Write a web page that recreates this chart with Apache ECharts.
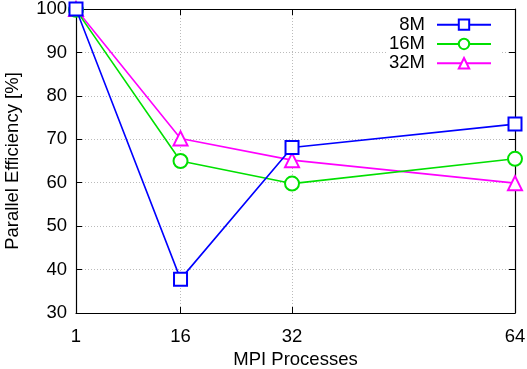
<!DOCTYPE html>
<html><head><meta charset="utf-8">
<script src="https://cdn.jsdelivr.net/npm/echarts@6/dist/echarts.min.js"></script>
<style>html,body{margin:0;padding:0;background:#fff}#c{width:527px;height:369px}</style>
</head><body><div id="c"></div>
<script>
const procs = [1, 16, 32, 64];
const xTicks = [1, 16, 32, 64];
const seriesNames = ['8M', '16M', '32M'];
const eff8M = [100, 37.8, 68.1, 73.5];
const eff16M = [99.8, 65.0, 59.8, 65.5];
const eff32M = [100, 70.2, 65.2, 59.9];
const yMin = 30, yMax = 100, yStep = 10;

const font = 'Liberation Sans, Arial, Helvetica, sans-serif';
const fs = 18.5;
const colors = ['#0000ff', '#00e000', '#ff00ff'];
const symbols = ['emptyRect', 'emptyCircle', 'emptyTriangle'];
const sizes = [13, 14, 14];
const values = [eff8M, eff16M, eff32M];

const chart = echarts.init(document.getElementById('c'));
const tickStyle = {show: true, inside: true, length: 6, lineStyle: {color: '#000', width: 1}};
const lineStyleAxis = {show: true, onZero: false, lineStyle: {color: '#000', width: 1.2}};
const gridLine = {show: true, lineStyle: {color: '#bbb', width: 1, type: [1, 2]}};

chart.setOption({
  animation: false,
  backgroundColor: '#fff',
  grid: {left: 76, right: 12, top: 9, bottom: 56, containLabel: false, outerBoundsMode: 'none'},
  legend: {
    orient: 'vertical', right: 25, top: 11, align: 'right',
    backgroundColor: '#fff', padding: [4, 10, 4, 2],
    itemWidth: 54, itemHeight: 13, itemGap: 0,
    textStyle: {fontFamily: font, fontSize: fs, lineHeight: 19.3, color: '#000', padding: [0, 7, 0, 0]},
    data: seriesNames
  },
  xAxis: [{
    type: 'value', min: 1, max: 64, position: 'bottom',
    name: 'MPI Processes', nameLocation: 'middle', nameGap: 34,
    nameTextStyle: {fontFamily: font, fontSize: fs, color: '#000'},
    axisLine: lineStyleAxis,
    axisTick: Object.assign({customValues: xTicks}, tickStyle),
    axisLabel: {customValues: xTicks, margin: 14, fontFamily: font, fontSize: fs, color: '#000'},
    splitLine: Object.assign({customValues: xTicks}, gridLine)
  }, {
    type: 'value', min: 1, max: 64, position: 'top',
    axisLine: lineStyleAxis,
    axisTick: Object.assign({customValues: xTicks}, tickStyle),
    axisLabel: {show: false}, splitLine: {show: false}
  }],
  yAxis: [{
    type: 'value', min: yMin, max: yMax, interval: yStep, position: 'left',
    name: 'Parallel Efficiency [%]', nameLocation: 'middle', nameGap: 54,
    nameTextStyle: {fontFamily: font, fontSize: fs, color: '#000'},
    axisLine: lineStyleAxis, axisTick: tickStyle,
    axisLabel: {margin: 9, fontFamily: font, fontSize: fs, color: '#000'},
    splitLine: gridLine
  }, {
    type: 'value', min: yMin, max: yMax, interval: yStep, position: 'right',
    axisLine: lineStyleAxis, axisTick: tickStyle,
    axisLabel: {show: false}, splitLine: {show: false}
  }],
  series: seriesNames.map((n, k) => ({
    name: n, type: 'line',
    data: procs.map((p, i) => [p, values[k][i]]),
    symbol: symbols[k], symbolSize: sizes[k],
    itemStyle: {color: colors[k], borderWidth: 1.6},
    lineStyle: {color: colors[k], width: 1.6},
    z: 10 - k
  }))
});
</script></body></html>
